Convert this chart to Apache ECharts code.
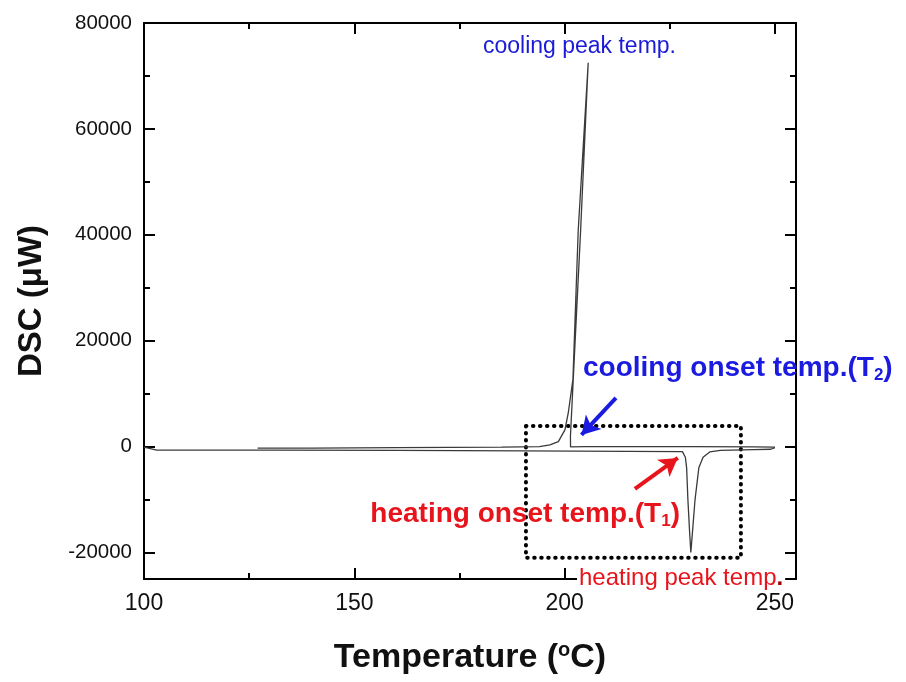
<!DOCTYPE html>
<html>
<head>
<meta charset="utf-8">
<script src="https://cdn.jsdelivr.net/npm/echarts@6/dist/echarts.min.js"></script>
<style>
html,body{margin:0;padding:0;background:#fff;}
#chart{width:906px;height:682px;}
</style>
</head>
<body>
<div id="chart"></div>
<script>
// ---- data ----
var xMajorTicks = [100, 150, 200, 250];
var xMinorTicks = [125, 175, 225];
var yMajorTicks = [-20000, 0, 20000, 40000, 60000, 80000];
var yMinorTicks = [-10000, 10000, 30000, 50000, 70000];

// heating scan (temperature rising)
var heatingT = [100, 101, 103, 130, 160, 190, 215, 228, 228.7, 229.0, 229.3, 229.7, 230.0, 230.4, 231.0, 231.9, 232.9, 234.5, 237, 245, 249, 250];
var heatingDSC = [-100, -300, -650, -650, -700, -800, -900, -950, -2000, -4000, -10000, -16000, -20000, -16000, -10000, -4000, -2000, -1000, -700, -550, -500, -200];

// cooling scan (temperature falling, with recalescence)
var coolingT = [250, 245, 230, 215, 205, 201.4, 201.38, 203.8, 205.6, 203.23, 201.97, 200.86, 200.07, 198.5, 196.5, 194, 185, 160, 140, 127];
var coolingDSC = [-100, -50, 0, 0, 0, -50, 2000, 40890, 72500, 40890, 12700, 6350, 3150, 940, 320, 0, -100, -200, -300, -300];

// annotation anchors (data coordinates)
var boxCorners = [[190.8, 3900], [241.9, -21000]];
var coolArrow = [[212.2, 9190], [204.0, 2200]];
var heatArrow = [[216.7, -7980], [226.9, -2130]];

function pairs(xs, ys){ return xs.map(function(x,i){ return [x, ys[i]]; }); }

var chart = echarts.init(document.getElementById('chart'), null, {renderer:'canvas'});
var FONT = '"Liberation Sans", Arial, Helvetica, sans-serif';
var lineCol = '#000';

function xAx(pos, ticks, len, showLine, showLabel, extra){
  var a = {
    type:'value', position:pos, min:100, max:255,
    axisLine:{show:showLine, onZero:false, lineStyle:{color:lineCol, width:2}},
    axisTick:{show:true, inside:true, length:len, customValues:ticks, lineStyle:{color:lineCol, width:2}},
    axisLabel:{show:showLabel, customValues:ticks, fontSize:23, margin:13, color:'#111', fontFamily:FONT,
      formatter:function(v){ return String(v); }},
    splitLine:{show:false}
  };
  return Object.assign(a, extra||{});
}
function yAx(pos, ticks, len, showLine, showLabel, extra){
  var a = {
    type:'value', position:pos, min:-25000, max:80000,
    axisLine:{show:showLine, onZero:false, lineStyle:{color:lineCol, width:2}},
    axisTick:{show:true, inside:true, length:len, customValues:ticks, lineStyle:{color:lineCol, width:2}},
    axisLabel:{show:showLabel, customValues:ticks, fontSize:20.5, margin:12, color:'#111', fontFamily:FONT,
      formatter:function(v){ return String(v); }},
    splitLine:{show:false}
  };
  return Object.assign(a, extra||{});
}

var option = {
  animation:false,
  backgroundColor:'#fff',
  grid:{left:144, top:23, right:110, bottom:103, containLabel:false, outerBoundsMode:'none'},
  xAxis:[
    xAx('bottom', xMajorTicks, 11, true, true, {
      name:'{t|Temperature (}{s|o}{t|C)}', nameLocation:'middle', nameGap:61,
      nameTextStyle:{rich:{
        t:{fontSize:34, fontWeight:'bold', color:'#111', fontFamily:FONT},
        s:{fontSize:20, fontWeight:'bold', color:'#111', fontFamily:FONT, padding:[0,0,16,0]}
      }}
    }),
    xAx('bottom', xMinorTicks, 6, false, false),
    xAx('top', xMajorTicks, 11, true, false),
    xAx('top', xMinorTicks, 6, false, false)
  ],
  yAxis:[
    yAx('left', yMajorTicks, 11, true, true, {
      name:'DSC (\u03BCW)', nameLocation:'middle', nameGap:96,
      nameTextStyle:{fontSize:33, fontWeight:'bold', color:'#111', fontFamily:FONT}
    }),
    yAx('left', yMinorTicks, 6, false, false),
    yAx('right', yMajorTicks, 11, true, false),
    yAx('right', yMinorTicks, 6, false, false)
  ],
  series:[
    {
      name:'heating', type:'line', data:pairs(heatingT, heatingDSC),
      showSymbol:false, smooth:false, lineStyle:{color:'#3a3a3a', width:1.3},
      xAxisIndex:0, yAxisIndex:0, z:3,
      markArea:{
        silent:true,
        itemStyle:{color:'rgba(0,0,0,0)', borderColor:'#000', borderWidth:4, borderType:[0.5,6.5], borderCap:'round'},
        data:[[{coord:boxCorners[0]},{coord:boxCorners[1]}]]
      },
      markLine:{
        silent:true, symbol:['none','arrow'], symbolSize:[16,18], label:{show:false},
        data:[
          [{coord:heatArrow[0], lineStyle:{color:'#e8141c', width:4, type:'solid'}}, {coord:heatArrow[1]}]
        ]
      }
    },
    {
      name:'cooling', type:'line', data:pairs(coolingT, coolingDSC),
      showSymbol:false, smooth:false, lineStyle:{color:'#3a3a3a', width:1.3},
      xAxisIndex:0, yAxisIndex:0, z:3,
      markLine:{
        silent:true, symbol:['none','arrow'], symbolSize:[16,18], label:{show:false},
        data:[
          [{coord:coolArrow[0], lineStyle:{color:'#1a1ae0', width:4, type:'solid'}}, {coord:coolArrow[1]}]
        ]
      }
    }
  ],
  graphic:[
    {type:'text', x:676, y:47, z:100, style:{text:'cooling peak temp.', fill:'#1a1ad8', font:'23px '+FONT, align:'right', verticalAlign:'middle'}},
    {type:'text', x:577, y:578, z:100, style:{
      text:'{a|heating peak temp}{b|.}', align:'left', verticalAlign:'middle',
      backgroundColor:'#fff', padding:[0,2,0,2],
      rich:{a:{fill:'#e8141c', fontSize:24, fontFamily:FONT}, b:{fill:'#a00000', fontSize:24, fontWeight:'bold', fontFamily:FONT}}
    }},
    {type:'text', x:583, y:368, z:100, style:{
      text:'{a|cooling onset temp.(T}{s|2}{a|)}', align:'left', verticalAlign:'middle',
      rich:{a:{fill:'#1a1ae0', fontSize:28, fontWeight:'bold', fontFamily:FONT},
            s:{fill:'#1a1ae0', fontSize:17, fontWeight:'bold', fontFamily:FONT, padding:[14,0,0,0]}}
    }},
    {type:'text', x:680, y:514, z:100, style:{
      text:'{a|heating onset temp.(T}{s|1}{a|)}', align:'right', verticalAlign:'middle',
      rich:{a:{fill:'#e8141c', fontSize:28, fontWeight:'bold', fontFamily:FONT},
            s:{fill:'#e8141c', fontSize:17, fontWeight:'bold', fontFamily:FONT, padding:[14,0,0,0]}}
    }}
  ]
};
chart.setOption(option);
</script>
</body>
</html>
